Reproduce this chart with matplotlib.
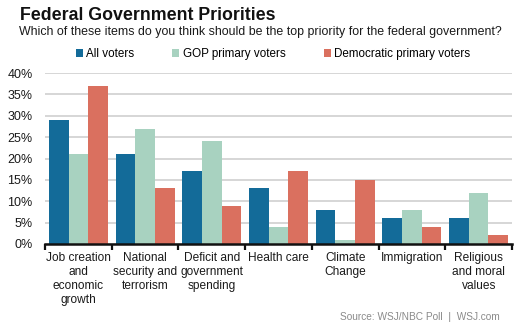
import numpy as np
import matplotlib
matplotlib.use("Agg")
import matplotlib.pyplot as plt
from matplotlib.ticker import FuncFormatter, FixedLocator

plt.rcParams['font.family'] = ['Liberation Sans', 'DejaVu Sans']

# Poll results, percent naming each item as top priority
categories = ["Job creation\nand\neconomic\ngrowth",
              "National\nsecurity and\nterrorism",
              "Deficit and\ngovernment\nspending",
              "Health care",
              "Climate\nChange",
              "Immigration",
              "Religious\nand moral\nvalues"]
all_voters = [29, 21, 17, 13, 8, 6, 6]
gop_voters = [21, 27, 24, 4, 1, 8, 12]
dem_voters = [37, 13, 9, 17, 15, 4, 2]
series_names = ["All voters", "GOP primary voters", "Democratic primary voters"]
colors = ["#136b99", "#a8d2c0", "#da705f"]

W, H = 520, 332
fig = plt.figure(figsize=(W / 100, H / 100), dpi=100)
fig.patch.set_facecolor("white")

ax = fig.add_axes([45 / W, (H - 244) / H, (512 - 45) / W, (244 - 73) / H])

x = np.arange(len(categories))
bw = 0.295
for i, (vals, name) in enumerate(zip([all_voters, gop_voters, dem_voters], series_names)):
    ax.bar(x + (i - 1) * bw, vals, width=bw, color=colors[i], label=name, zorder=3)

ax.set_xlim(-0.5, len(categories) - 0.5)
ax.set_ylim(0, 40)
ax.set_yticks(range(0, 41, 5))
ax.yaxis.set_major_formatter(FuncFormatter(lambda v, p: f"{int(v)}%"))
ax.grid(axis="y", color="#d0d0d0", linewidth=1.2, zorder=0)
ax.tick_params(axis="y", length=0, labelsize=9, pad=9, colors="#1a1a1a")

ax.set_xticks(x)
ax.set_xticklabels(categories, fontsize=8.6, linespacing=1.22, color="#1a1a1a")
ax.tick_params(axis="x", which="major", length=0, pad=6)
ax.xaxis.set_minor_locator(FixedLocator(np.arange(-0.5, len(categories), 1.0)))
ax.tick_params(axis="x", which="minor", length=4, width=1.6, color="#111111", direction="out")

for s in ["top", "right", "left"]:
    ax.spines[s].set_visible(False)
ax.spines["bottom"].set_color("#111111")
ax.spines["bottom"].set_linewidth(1.8)
ax.spines["bottom"].set_zorder(4)

fig.text(20 / W, 1 - 15 / H, "Federal Government Priorities", fontsize=12.8,
         fontweight="bold", va="center", ha="left", color="#111111")
fig.text(19 / W, 1 - 32 / H,
         "Which of these items do you think should be the top priority for the federal government?",
         fontsize=8.9, va="center", ha="left", color="#1a1a1a")

leg = fig.legend(loc="center", bbox_to_anchor=(273 / W, 1 - 54 / H), ncol=3, frameon=False,
                 fontsize=8.35, handlelength=0.6, handleheight=0.6, handletextpad=0.3,
                 columnspacing=3.3)

fig.text(500 / W, 1 - 317 / H, "Source: WSJ/NBC Poll  |  WSJ.com", fontsize=7.3,
         ha="right", va="center", color="#8a8a8a")

fig.savefig("out.png", dpi=100)
